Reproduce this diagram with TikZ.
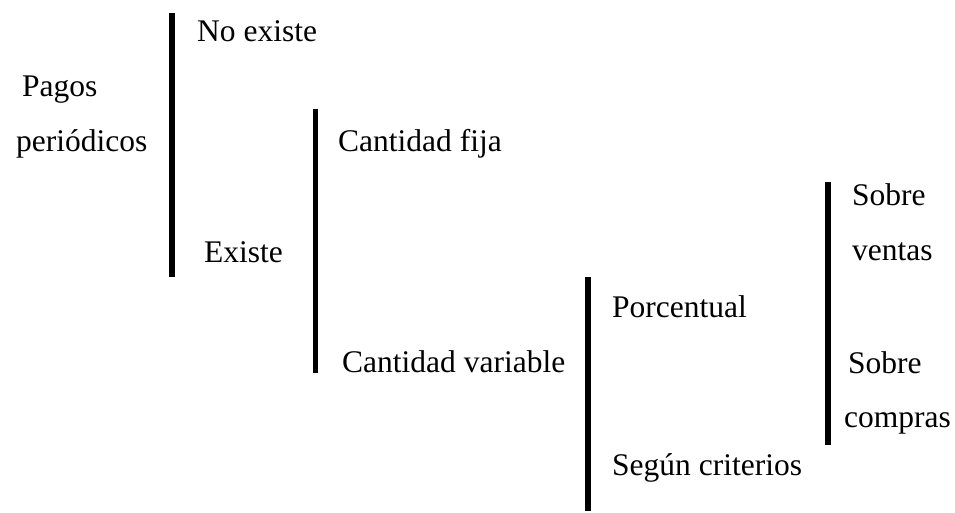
\documentclass[tikz,border=0pt]{standalone}
\usepackage{fontspec}
\setmainfont{Liberation Serif}
\begin{document}
\begin{tikzpicture}[x=1pt,y=-1pt,
  lbl/.style={anchor=base west,inner sep=0pt,font=\fontsize{31.5}{36}\selectfont},
  bar/.style={line width=5.5pt,line cap=butt}]
\useasboundingbox[fill=white] (0,0) rectangle (955,513);
% bars
\coordinate (b1t) at (172,13);  \coordinate (b1b) at (172,277);
\coordinate (b2t) at (315.5,109); \coordinate (b2b) at (315.5,373);
\coordinate (b3t) at (588,277); \coordinate (b3b) at (588,511);
\coordinate (b4t) at (828,182); \coordinate (b4b) at (828,445);
\draw[bar] (b1t) -- (b1b);
\draw[bar] (b2t) -- (b2b);
\draw[bar] (b3t) -- (b3b);
\draw[bar] (b4t) -- (b4b);
% labels
\node[lbl] (pagos) at (22,97) {Pagos};
\node[lbl] (peri) at (16,152) {periódicos};
\node[lbl] (noex) at (197,42) {No existe};
\node[lbl] (ex) at (204,262) {Existe};
\node[lbl] (fija) at (338,152) {Cantidad fija};
\node[lbl] (var) at (342,372) {Cantidad variable};
\node[lbl] (porc) at (612,317) {Porcentual};
\node[lbl] (seg) at (612,475) {Según criterios};
\node[lbl] (sob1) at (852,205) {Sobre};
\node[lbl] (ven) at (852,260) {ventas};
\node[lbl] (sob2) at (848,373) {Sobre};
\node[lbl] (com) at (844,427) {compras};
\end{tikzpicture}
\end{document}
